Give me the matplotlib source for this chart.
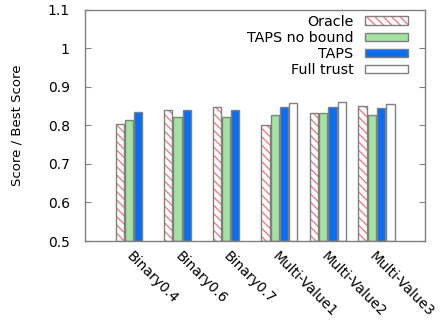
import numpy as np
import matplotlib
matplotlib.use('Agg')
import matplotlib.pyplot as plt

# values
categories = ['Binary0.4', 'Binary0.6', 'Binary0.7',
              'Multi-Value1', 'Multi-Value2', 'Multi-Value3']
oracle = [0.804, 0.839, 0.847, 0.800, 0.833, 0.851]
taps_no_bound = [0.815, 0.821, 0.821, 0.828, 0.833, 0.826]
taps = [0.834, 0.840, 0.841, 0.847, 0.847, 0.846]
full_trust = [np.nan, np.nan, np.nan, 0.859, 0.861, 0.856]

plt.rcParams['font.family'] = 'DejaVu Sans'
grey = '#808080'

fig = plt.figure(figsize=(4.47, 3.21), dpi=100)
ax = fig.add_axes([0.19, 0.249, 0.761, 0.721])

x = np.arange(len(categories))
w = 0.19
base = 0.5

# Oracle: white bar with pink hatch, grey outline drawn on top
o_hatch = ax.bar(x - 1.5 * w, np.array(oracle) - base, w * 0.9, bottom=base,
                 color='white', edgecolor='#f07f7f', hatch='\\\\\\\\', linewidth=0)
o_edge = ax.bar(x - 1.5 * w, np.array(oracle) - base, w * 0.9, bottom=base,
                color='none', edgecolor=grey, linewidth=1.0)
g = ax.bar(x - 0.5 * w, np.array(taps_no_bound) - base, w * 0.9, bottom=base,
           color='#a3e3a0', edgecolor=grey, linewidth=1.0)
b = ax.bar(x + 0.5 * w, np.array(taps) - base, w * 0.9, bottom=base,
           color='#0a6ef2', edgecolor=grey, linewidth=1.0)
f = ax.bar(x + 1.5 * w, np.array(full_trust) - base, w * 0.9, bottom=base,
           color='white', edgecolor=grey, linewidth=1.0)

ax.set_xlim(-1, 6)
ax.set_ylim(0.5, 1.1)
ax.set_yticks([0.5, 0.6, 0.7, 0.8, 0.9, 1.0, 1.1])
ax.set_yticklabels(['0.5', '0.6', '0.7', '0.8', '0.9', '1', '1.1'])
ax.set_xticks(x)
ax.set_xticklabels(categories, rotation=-45, ha='left', va='top',
                   rotation_mode='anchor', fontsize=10)
ax.tick_params(axis='y', direction='in', right=True, length=4, color=grey,
               labelsize=10, pad=11)
ax.tick_params(axis='x', direction='in', length=4, color=grey, pad=6)
for s in ax.spines.values():
    s.set_color(grey)
    s.set_linewidth(1.0)

ax.set_ylabel('Score / Best Score', fontsize=9.5, labelpad=17)

leg = ax.legend([(o_hatch[0], o_edge[0]), g[0], b[0], f[0]],
                ['Oracle', 'TAPS no bound', 'TAPS', 'Full trust'],
                loc='upper right', bbox_to_anchor=(0.979, 1.022),
                markerfirst=False, frameon=False,
                fontsize=10.3, handlelength=3.0, handleheight=0.5,
                labelspacing=0.15, handletextpad=0.8,
                borderaxespad=0.3)

fig.savefig('out.png', dpi=100)
